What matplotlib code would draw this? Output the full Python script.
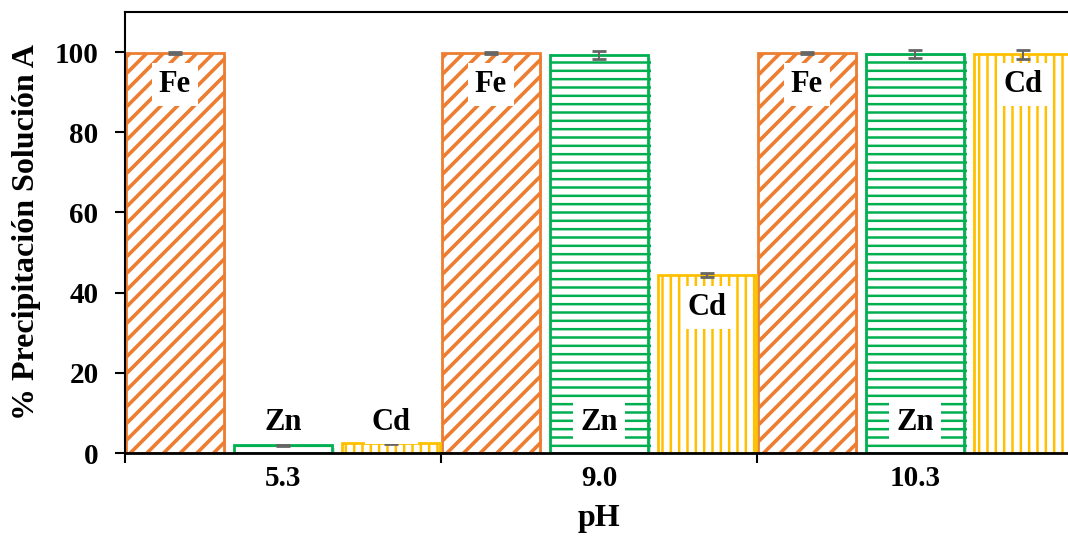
import matplotlib.pyplot as plt
import matplotlib.patheffects as pe
import numpy as np

plt.rcParams['font.family'] = ['Liberation Serif', 'DejaVu Serif']
plt.rcParams['font.weight'] = 'bold'

ph_labels = ['5.3', '9.0', '10.3']
fe_values = [99.8, 99.8, 99.8]
zn_values = [2.0, 99.3, 99.5]
cd_values = [2.5, 44.3, 99.4]
fe_err = [0.2, 0.2, 0.2]
zn_err = [0.2, 1.0, 1.0]
cd_err = [0.2, 0.5, 1.0]

fe_labels_y = [91.8, 91.8, 91.8]
zn_labels_y = [7.5, 7.5, 7.5]
cd_labels_y = [7.5, 36.4, 91.8]

fig = plt.figure(figsize=(10.68, 5.53), dpi=100)
ax = fig.add_axes([125 / 1068, 100 / 553, 948 / 1068, 441 / 553])

x = np.arange(len(ph_labels))
w = 0.31
off = 0.343

series = [
    ('Fe', fe_values, fe_err, '#ED7D31', '//', -off, fe_labels_y, 2.6),
    ('Zn', zn_values, zn_err, '#00B050', '--', 0, zn_labels_y, 1.8),
    ('Cd', cd_values, cd_err, '#FFC000', '||', off, cd_labels_y, 1.8),
]

shadow = [pe.SimplePatchShadow(offset=(2, -2), shadow_rgbFace='#999999', alpha=0.35),
          pe.Normal()]

for name, vals, err, color, hatch, dx, label_y, hlw in series:
    plt.rcParams['hatch.linewidth'] = hlw
    bars = ax.bar(x + dx, vals, width=w, facecolor='white', edgecolor=color,
                  hatch=hatch, linewidth=2, zorder=2)
    for b in bars:
        b.set_path_effects(shadow)
    ax.errorbar(x + dx, vals, yerr=err, fmt='none', ecolor='#666666',
                elinewidth=1.5, capsize=5, capthick=2, zorder=3)
    for xi, ly in zip(x + dx, label_y):
        ax.text(xi, ly, name, ha='center', va='center', fontsize=22,
                fontweight='bold', zorder=4,
                bbox=dict(facecolor='white', edgecolor='none', pad=5))

ax.set_xlim(-0.5, 2.5)
ax.set_ylim(0, 110)
ax.set_yticks([0, 20, 40, 60, 80, 100])
ax.tick_params(axis='y', labelsize=21, length=7, width=1.5, direction='out', pad=12)

ax.set_xticks(x)
ax.set_xticklabels(ph_labels)
ax.set_xticks([-0.5, 0.5, 1.5], minor=True)
ax.tick_params(axis='x', which='major', length=0, labelsize=21, pad=9)
ax.tick_params(axis='x', which='minor', length=7, width=1.5, direction='out')

for lab in ax.get_xticklabels() + ax.get_yticklabels():
    lab.set_fontweight('bold')

ax.set_xlabel('pH', fontsize=23, fontweight='bold', labelpad=8)
ax.set_ylabel('% Precipitación Solución A', fontsize=23, fontweight='bold', labelpad=10)

ax.spines['bottom'].set_linewidth(2)
ax.spines['left'].set_linewidth(1.5)
ax.spines['top'].set_linewidth(1.5)
ax.spines['right'].set_visible(False)

fig.savefig('out.png', dpi=100)
